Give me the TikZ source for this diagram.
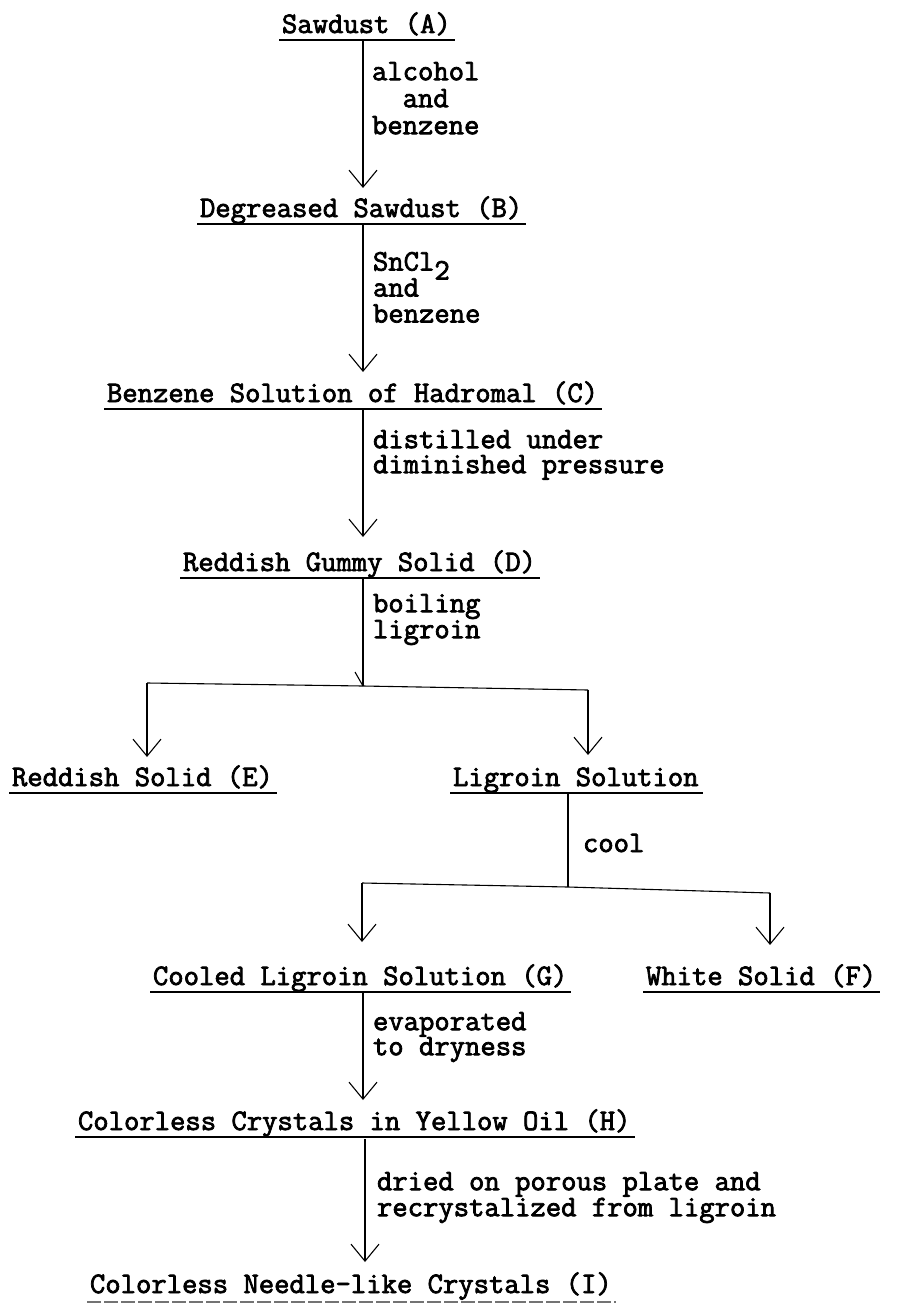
\documentclass[tikz,border=0pt]{standalone}
\usepackage{fontspec}
\setmonofont{Latin Modern Mono}[FakeBold=2.5]
\usetikzlibrary{arrows.meta,calc}
\begin{document}
\begin{tikzpicture}[x=1pt,y=-1pt,
  every node/.style={font={\ttfamily\fontsize{29.8}{30}\selectfont}, inner sep=0pt, outer sep=0pt, anchor=base west},
  lbl/.style={anchor=north west, align=left, font={\ttfamily\fontsize{29.8}{26}\selectfont}},
  ul/.style={line width=2.4pt},
  uld/.style={line width=2pt, black!55, dash pattern=on 14pt off 3pt},
  conn/.style={line width=1.1pt},
  arr/.style={conn, -{Straight Barb[length=17pt,width=28pt,line width=1.1pt]}}]
\useasboundingbox (0,0) rectangle (901,1306);
\newcommand\ulnode[1]{\draw[ul] ($(#1.base west)+(-3,7)$) -- ($(#1.base east)+(4,7)$);}
% main nodes
\node (A) at (282,33) {Sawdust (A)};
\node (B) at (200,217) {Degreased Sawdust (B)};
\node (C) at (107,402) {Benzene Solution of Hadromal (C)};
\node (D) at (183,571) {Reddish Gummy Solid (D)};
\node (E) at (12,786) {Reddish Solid (E)};
\node (L) at (453,786) {Ligroin Solution};
\node (G) at (153,985) {Cooled Ligroin Solution (G)};
\node (F) at (646,985) {White Solid (F)};
\node (H) at (78,1130) {Colorless Crystals in Yellow Oil (H)};
\node (I) at (90,1293) {Colorless Needle-like Crystals (I)};
\ulnode{A}\ulnode{B}\ulnode{C}\ulnode{D}\ulnode{E}\ulnode{L}\ulnode{G}\ulnode{F}\ulnode{H}
\draw[uld] ($(I.base west)+(-3,9)$) -- ($(I.base east)+(4,9)$);
% labels (first baseline = y + 18)
\node[lbl, align=center, font={\ttfamily\fontsize{29.8}{27}\selectfont}] (l1) at (372,62) {alcohol\\and\\benzene};
\node[lbl] (l2) at (373,252) {SnCl\smash{\raisebox{-9pt}{2}}\\and\\benzene};
\node[lbl, font={\ttfamily\fontsize{29.8}{25}\selectfont}] (l3) at (373,430) {distilled under\\diminished pressure};
\node[lbl] (l4) at (373,594) {boiling\\ligroin};
\node (l5) at (583,852) {cool};
\node[lbl, font={\ttfamily\fontsize{29.8}{25}\selectfont}] (l6) at (373,1012) {evaporated\\to dryness};
\node[lbl] (l7) at (377,1172) {dried on porous plate and\\recrystalized from ligroin};
% trunk positions
\coordinate (tx) at (363,0);
\coordinate (tx2) at (568,0);
\coordinate (tx3) at (365,0);
\coordinate (J1) at (363,686);
\coordinate (jl) at (147,683);
\coordinate (jr) at (588,690);
\coordinate (J2) at (568,887);
\coordinate (kl) at (362,883);
\coordinate (kr) at (770,893);
% connectors
\draw[arr] ($(A.base -| tx)+(0,7)$) -- ($(B.base -| tx)+(0,-29)$);
\draw[arr] ($(B.base -| tx)+(0,8)$) -- ($(C.base -| tx)+(0,-30)$);
\draw[arr] ($(C.base -| tx)+(0,8)$) -- ($(D.base -| tx)+(0,-34)$);
\draw[conn] ($(D.base -| tx)+(0,8)$) -- (J1);
\draw[conn] (jl) -- (J1) -- (jr);
\draw[conn] (J1) -- ++(-8,-14);
\draw[arr] (jl) -- ($(E.base -| jl)+(0,-29)$);
\draw[arr] (jr) -- ($(L.base -| jr)+(0,-31)$);
\draw[conn] ($(L.base -| tx2)+(0,8)$) -- (J2);
\draw[conn] (kl) -- (J2) -- (kr);
\draw[arr] (kl) -- ($(G.base -| kl)+(0,-43)$);
\draw[arr] (kr) -- ($(F.base -| kr)+(0,-40)$);
\draw[arr] ($(G.base -| tx)+(0,8)$) -- ($(H.base -| tx)+(0,-30)$);
\draw[arr] ($(H.base -| tx3)+(0,9)$) -- ($(I.base -| tx3)+(0,-31)$);
\end{tikzpicture}
\end{document}
